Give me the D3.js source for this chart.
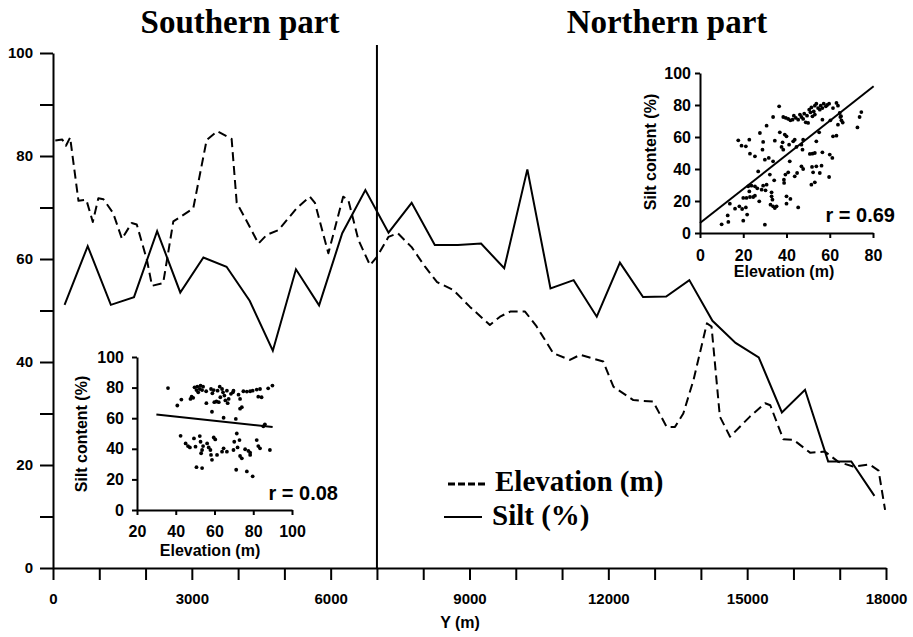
<!DOCTYPE html>
<html>
<head>
<meta charset="utf-8">
<script src="https://cdn.jsdelivr.net/npm/d3@7/dist/d3.min.js"></script>
<style>
  html, body { margin: 0; padding: 0; background: #fff; }
  svg { display: block; }
  .sans { font-family: "Liberation Sans", Arial, Helvetica, sans-serif; font-weight: bold; }
  .serif { font-family: "Liberation Serif", "Times New Roman", serif; font-weight: bold; }
</style>
</head>
<body>
<svg id="chart" width="913" height="637"></svg>
<script>
// ---- Transect data ----
// Silt content (%) sampled along the transect (Y, metres)
const siltPos = [250, 750, 1250, 1750, 2250, 2750, 3250, 3750, 4250, 4750, 5250, 5750,
  6250, 6750, 7250, 7750, 8250, 8750, 9250, 9750, 10250, 10750, 11250, 11750,
  12250, 12750, 13250, 13750, 14250, 14750, 15250, 15750, 16250, 16750, 17250, 17750];
const siltPct = [51.1, 62.5, 51.1, 52.6, 65.4, 53.5, 60.3, 58.5, 51.9, 42.2, 58.0, 51.0,
  65.0, 73.4, 65.1, 70.9, 62.7, 62.7, 63.0, 58.2, 77.4, 54.3, 55.9, 48.8,
  59.3, 52.6, 52.7, 55.9, 48.0, 43.7, 40.9, 30.2, 34.6, 20.7, 20.7, 14.0];

// Ground elevation (m) profile along the same transect
const elevPos = [50, 200, 280, 370, 550, 720, 860, 980, 1090, 1300, 1490, 1700, 1810, 2030,
  2140, 2380, 2600, 3030, 3320, 3550, 3860, 3970, 4190, 4440, 4620, 4870, 5270, 5550,
  5660, 5950, 6270, 6380, 6600, 6850, 7000, 7250, 7450, 7750, 8040, 8300, 8650, 9010,
  9440, 9660, 9880, 10200, 10450, 10810, 11170, 11390, 11890, 12110, 12540, 12970,
  13260, 13440, 13620, 13840, 14130, 14230, 14410, 14630, 15060, 15390, 15500, 15780,
  16000, 16360, 16680, 16970, 17290, 17650, 17840, 17980];
const elevM = [83.0, 83.2, 82.0, 83.6, 71.3, 71.5, 67.2, 71.8, 71.6, 68.9, 63.9, 67.0, 66.7, 59.8,
  54.8, 55.3, 67.3, 69.8, 83.1, 84.8, 83.3, 70.9, 67.3, 63.0, 64.7, 65.6, 69.9, 72.1,
  70.9, 61.1, 72.1, 71.5, 63.7, 58.8, 60.4, 64.3, 65.0, 62.3, 58.5, 55.5, 54.0, 50.7,
  47.2, 48.8, 49.8, 49.8, 46.9, 41.7, 40.4, 41.4, 40.1, 35.2, 32.6, 32.3,
  27.4, 27.4, 30.0, 36.5, 47.5, 46.9, 29.4, 25.5, 29.4, 32.0, 31.6, 25.0,
  24.9, 22.4, 22.6, 20.6, 19.7, 20.1, 18.9, 11.3];

const splitY = 7000;           // boundary between southern and northern parts
const xTicksMinor = [0, 1000, 2000, 3000, 4000, 5000, 6000, 7000, 8000, 9000, 10000, 11000,
  12000, 13000, 14000, 15000, 16000, 17000, 18000];
const xTickLabels = [0, 3000, 6000, 9000, 12000, 15000, 18000];
const yTicksMinor = [0, 10, 20, 30, 40, 50, 60, 70, 80, 90, 100];
const yTickLabels = [0, 20, 40, 60, 80, 100];

// ---- Northern part: elevation vs silt samples ----
const northElev = [10.0, 13.1, 12.8, 13.8, 16.2, 18.2, 19.5, 20.0, 21.8, 21.2, 20.0, 21.5, 23.1, 24.6,
  25.4, 22.3, 23.8, 25.4, 26.5, 22.8, 27.4, 28.5, 29.2, 30.3, 30.8, 31.8, 32.3, 33.1, 33.1,
  33.5, 32.6, 33.8, 34.6, 35.4, 34.3, 33.8, 30.0,
  17.7, 19.2, 21.2, 22.8, 23.1, 25.4, 26.9, 27.7, 28.9, 29.2, 30.0, 30.8, 33.8, 34.6, 36.6,
  36.9, 37.7, 38.2, 38.5, 39.2, 40.0, 41.2, 39.5, 38.9, 38.8, 40.8, 40.0, 40.0, 41.5, 41.8,
  45.4, 43.1, 43.8, 44.6, 46.9, 47.7, 47.4, 43.8, 44.9, 46.9, 47.7, 50.8, 52.0, 53.1, 53.8,
  55.1, 51.5, 53.1, 51.8, 52.3, 53.8, 56.2, 56.6, 55.4, 59.7, 60.0, 61.2, 61.5, 63.1, 63.8,
  38.5, 39.7, 40.8, 41.8, 42.8, 43.4, 44.3, 45.4, 46.2, 46.9, 47.7, 48.2, 48.9, 49.5, 50.0,
  50.5, 51.1, 51.5, 52.0, 52.6, 53.1, 53.8, 54.6, 55.4, 55.8, 56.6, 57.2, 58.2, 58.8, 59.7,
  56.6, 53.1, 60.3, 63.1, 63.8, 64.6, 64.9, 65.4, 61.5, 72.8, 73.8, 74.6, 66.0, 65.2];
const northSilt = [5.4, 6.9, 11.0, 18.3, 15.2, 16.7, 15.0, 7.7, 11.5, 16.0, 21.9, 21.9, 22.5, 22.5,
  23.3, 29.2, 29.6, 29.2, 27.9, 26.0, 19.8, 27.1, 29.6, 26.7, 30.2, 46.9, 36.5, 25.4, 22.9,
  20.8, 17.7, 16.7, 15.6, 16.7, 32.9, 44.8, 5.2,
  57.9, 54.6, 54.2, 58.3, 49.6, 47.9, 38.5, 62.5, 52.1, 56.9, 45.8, 67.1, 72.5, 57.7, 79.2,
  62.9, 53.8, 56.7, 52.1, 61.5, 60.4, 55.2, 36.5, 31.3, 33.3, 37.9, 22.9, 18.3, 44.8, 21.3,
  16.0, 57.3, 58.3, 53.8, 55.2, 58.3, 52.1, 35.4, 37.5, 41.7, 40.0, 49.4, 49.6, 50.0, 57.3,
  62.9, 30.2, 31.7, 41.3, 37.9, 41.7, 42.1, 50.4, 37.5, 35.0, 49.0, 46.9, 60.4, 60.8, 67.7,
  72.5, 71.9, 71.3, 70.4, 70.8, 73.3, 71.9, 70.8, 74.0, 72.5, 71.3, 74.6, 69.2, 73.3, 68.8,
  77.1, 75.4, 78.5, 72.9, 76.0, 79.6, 80.8, 78.1, 77.1, 79.6, 78.1, 80.8, 79.2, 80.0, 80.8,
  70.8, 74.0, 70.4, 81.3, 79.6, 75.0, 72.5, 70.4, 78.1, 66.0, 72.5, 75.6, 69.0, 73.0];

// ---- Southern part: elevation vs silt samples ----
const southElev = [36.0, 40.8, 42.9, 47.6, 48.2, 49.0, 49.7, 50.7, 51.1, 51.6, 52.4, 52.8, 53.6, 54.1,
  55.7, 55.8, 58.2, 58.9, 59.6, 59.9, 61.0, 61.6, 62.2, 62.7, 63.0, 63.9, 64.4, 65.1, 65.6,
  66.4, 66.8, 67.3, 68.5, 69.5, 69.8, 58.7, 64.7, 71.0, 72.4, 73.2, 73.2, 74.1, 74.9, 76.7,
  78.4, 79.7, 81.8, 82.6, 83.5, 84.3, 87.7, 89.9, 85.2, 86.0,
  42.5, 45.1, 46.3, 47.3, 49.4, 50.2, 52.4, 52.8, 53.1, 53.6, 54.1, 50.7, 53.6, 56.2, 57.0,
  57.9, 58.2, 58.7, 59.6, 60.4, 61.3, 63.9, 64.7, 66.4, 69.8, 70.2, 71.5, 71.9, 72.9, 73.2,
  74.1, 71.2, 76.7, 75.8, 77.5, 78.4, 79.7, 81.8, 82.6, 83.5, 88.6, 78.4];
const southSilt = [79.7, 68.3, 72.2, 72.6, 74.1, 73.3, 80.2, 78.4, 80.6, 76.9, 79.1, 81.3, 78.4, 80.6,
  77.6, 69.8, 79.1, 76.3, 78.4, 70.5, 70.9, 78.0, 70.5, 80.6, 73.7, 79.1, 76.9, 74.8, 71.6,
  78.0, 69.8, 72.6, 75.9, 76.9, 78.0, 64.2, 60.3, 59.5, 75.4, 72.6, 66.2, 67.2, 77.6, 77.4,
  77.6, 78.0, 78.7, 74.1, 79.1, 73.7, 79.5, 81.3, 54.7, 56.0,
  48.5, 43.5, 41.8, 40.9, 46.8, 41.4, 48.3, 44.6, 37.1, 39.2, 41.8, 28.0, 27.4, 43.5, 40.9,
  39.2, 36.0, 32.8, 47.4, 46.1, 36.0, 38.1, 40.3, 38.1, 39.2, 44.6, 50.0, 40.9, 45.7, 35.3,
  33.8, 26.3, 25.2, 39.7, 38.6, 37.5, 22.0, 45.7, 41.8, 40.3, 39.2, 36.0];

// Fitted regression lines [intercept, slope] and correlation labels
const northFit = [6.2, 1.065];
const southFit = [66.6, -0.137];
const northR = "r = 0.69";
const southR = "r = 0.08";

// ---- Drawing ----
const svg = d3.select("#chart");
const black = "#000";

const x = d3.scaleLinear().domain([0, 18000]).range([53, 886]);
const y = d3.scaleLinear().domain([0, 100]).range([568, 53]);

// Section titles
svg.append("text").attr("class", "serif").attr("x", 240).attr("y", 33)
  .attr("text-anchor", "middle").attr("font-size", 33).text("Southern part");
svg.append("text").attr("class", "serif").attr("x", 667).attr("y", 33)
  .attr("text-anchor", "middle").attr("font-size", 33).text("Northern part");

// Main axes
const xAxis = d3.axisBottom(x).tickValues(xTicksMinor).tickSize(12).tickSizeOuter(0).tickPadding(13)
  .tickFormat(d => xTickLabels.includes(d) ? d : "");
const yAxis = d3.axisLeft(y).tickValues(yTicksMinor).tickSize(13).tickSizeOuter(0).tickPadding(7)
  .tickFormat(d => yTickLabels.includes(d) ? d : "");

function styleAxis(g, fs) {
  g.selectAll("path, line").attr("stroke", black).attr("stroke-width", 2);
  g.selectAll("text").attr("class", "sans").attr("font-size", fs).attr("fill", black);
}
svg.append("g").attr("transform", `translate(0,${y(0)})`).call(xAxis).call(g => styleAxis(g, 15));
svg.append("g").attr("transform", `translate(${x(0)},0)`).call(yAxis).call(g => styleAxis(g, 15));

svg.append("text").attr("class", "sans").attr("x", 460).attr("y", 628)
  .attr("text-anchor", "middle").attr("font-size", 16).text("Y (m)");

// Boundary line between the two parts
svg.append("line").attr("x1", x(splitY)).attr("x2", x(splitY))
  .attr("y1", 45).attr("y2", y(0)).attr("stroke", black).attr("stroke-width", 2);

// Profiles
const lineGen = d3.line().x(d => x(d[0])).y(d => y(d[1]));
svg.append("path").datum(elevPos.map((p, i) => [p, elevM[i]]))
  .attr("d", lineGen).attr("fill", "none").attr("stroke", black)
  .attr("stroke-width", 2).attr("stroke-dasharray", "9,5").attr("stroke-linejoin", "round");
svg.append("path").datum(siltPos.map((p, i) => [p, siltPct[i]]))
  .attr("d", lineGen).attr("fill", "none").attr("stroke", black)
  .attr("stroke-width", 2).attr("stroke-linejoin", "miter");

// Legend
const legend = svg.append("g");
legend.append("line").attr("x1", 448).attr("x2", 486).attr("y1", 484).attr("y2", 484)
  .attr("stroke", black).attr("stroke-width", 3).attr("stroke-dasharray", "7,3");
legend.append("text").attr("class", "serif").attr("x", 495).attr("y", 491)
  .attr("font-size", 29).text("Elevation (m)");
legend.append("line").attr("x1", 444).attr("x2", 482).attr("y1", 517).attr("y2", 517)
  .attr("stroke", black).attr("stroke-width", 2);
legend.append("text").attr("class", "serif").attr("x", 492).attr("y", 525)
  .attr("font-size", 29).text("Silt (%)");

// Inset scatter plot with regression line
function inset(cfg) {
  const g = svg.append("g");
  const sx = d3.scaleLinear().domain(cfg.xDomain).range(cfg.xRange);
  const sy = d3.scaleLinear().domain([0, 100]).range(cfg.yRange);
  const ax = d3.axisBottom(sx).tickValues(cfg.xTicks).tickSize(5).tickSizeOuter(0).tickPadding(cfg.xPad);
  const ay = d3.axisLeft(sy).tickValues([0, 20, 40, 60, 80, 100]).tickSize(5).tickSizeOuter(0).tickPadding(cfg.yPad);
  g.append("g").attr("transform", `translate(0,${sy(0)})`).call(ax).call(a => styleAxis(a, 16));
  g.append("g").attr("transform", `translate(${sx(cfg.xDomain[0])},0)`).call(ay).call(a => styleAxis(a, 16));

  g.selectAll("circle").data(cfg.ex.map((e, i) => [e, cfg.silt[i]])).join("circle")
    .attr("cx", d => sx(d[0])).attr("cy", d => sy(d[1])).attr("r", 1.9).attr("fill", black);

  const [b0, b1] = cfg.fit;
  g.append("line")
    .attr("x1", sx(cfg.fitRange[0])).attr("y1", sy(b0 + b1 * cfg.fitRange[0]))
    .attr("x2", sx(cfg.fitRange[1])).attr("y2", sy(b0 + b1 * cfg.fitRange[1]))
    .attr("stroke", black).attr("stroke-width", 2);

  g.append("text").attr("class", "sans").attr("font-size", 16).attr("text-anchor", "middle")
    .attr("x", cfg.xLabel[0]).attr("y", cfg.xLabel[1]).text("Elevation (m)");
  g.append("text").attr("class", "sans").attr("font-size", 16).attr("text-anchor", "middle")
    .attr("transform", `translate(${cfg.yLabel[0]},${cfg.yLabel[1]}) rotate(-90)`)
    .text("Silt content (%)");
  g.append("text").attr("class", "sans").attr("font-size", 20).attr("text-anchor", "end")
    .attr("x", cfg.rPos[0]).attr("y", cfg.rPos[1]).text(cfg.r);
}

inset({
  xDomain: [0, 80], xRange: [700, 873], yRange: [233, 73], xTicks: [0, 20, 40, 60, 80],
  xPad: 12, yPad: 4, ex: northElev, silt: northSilt, fit: northFit, fitRange: [0, 80.3],
  xLabel: [784, 277], yLabel: [656, 152], rPos: [895, 222], r: northR
});
inset({
  xDomain: [20, 100], xRange: [137, 292], yRange: [510, 357], xTicks: [20, 40, 60, 80, 100],
  xPad: 11, yPad: 8, ex: southElev, silt: southSilt, fit: southFit, fitRange: [30, 90],
  xLabel: [210, 556], yLabel: [87, 434], rPos: [338, 500], r: southR
});
</script>
</body>
</html>
